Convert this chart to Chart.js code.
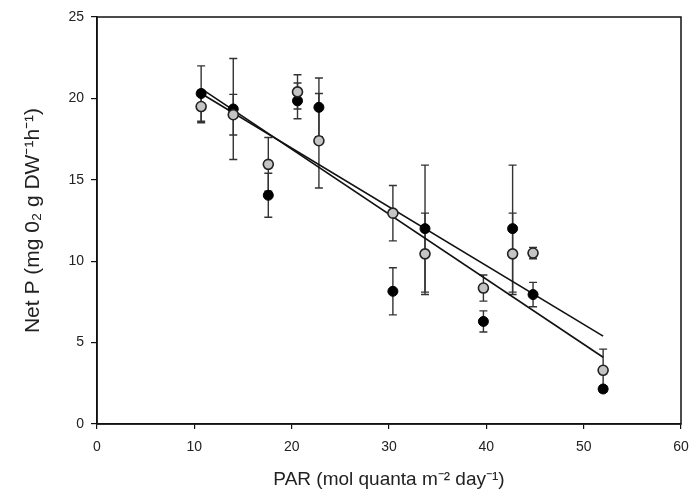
<!DOCTYPE html>
<html>
<head>
<meta charset="utf-8">
<script src="https://cdn.jsdelivr.net/npm/chart.js@4"></script>
<style>
  body { margin: 0; background: #fff; }
  #wrap { width: 692px; height: 497px; }
</style>
</head>
<body>
<div id="wrap"><canvas id="netpChart"></canvas></div>
<script>
// PAR values (x) shared by both series
const parValues = [10.7, 14.0, 17.6, 20.6, 22.8, 30.4, 33.7, 39.7, 42.7, 44.8, 52.0];
// filled (black) series
const blackNetP = [20.3, 19.35, 14.05, 19.85, 19.45, 8.15, 12.0, 6.3, 12.0, 7.95, 2.15];
const blackErr = [1.7, 3.1, 1.35, 1.1, 1.8, 1.45, 3.9, 0.65, 3.9, 0.75, 0.2];
// open (grey) series
const greyNetP = [19.5, 19.0, 15.95, 20.4, 17.4, 12.95, 10.45, 8.35, 10.45, 10.5, 3.3];
const greyErr = [1.0, 1.25, 1.65, 1.05, 2.9, 1.7, 2.5, 0.8, 2.5, 0.35, 1.3];
// regression line end points
const fitX = [10.7, 52.0];
const fitA = [20.6, 4.1];
const fitB = [20.3, 5.4];
const xTicks = [0, 10, 20, 30, 40, 50, 60];
const yTicks = [0, 5, 10, 15, 20, 25];

const toPoints = (xs, ys) => xs.map((x, i) => ({ x: x, y: ys[i] }));

// error bars, drawn before the markers so the markers sit on top
const errorBars = {
    id: 'errorBars',
    beforeDatasetsDraw(chart) {
        const ctx = chart.ctx;
        const xs = chart.scales.x, ys = chart.scales.y;
        const sets = [[blackNetP, blackErr], [greyNetP, greyErr]];
        ctx.save();
        ctx.strokeStyle = '#333';
        ctx.lineWidth = 1.4;
        sets.forEach(([vals, errs]) => {
            vals.forEach((v, i) => {
                const px = xs.getPixelForValue(parValues[i]);
                const top = ys.getPixelForValue(v + errs[i]);
                const bot = ys.getPixelForValue(v - errs[i]);
                ctx.beginPath();
                ctx.moveTo(px, top); ctx.lineTo(px, bot);
                ctx.moveTo(px - 4, top); ctx.lineTo(px + 4, top);
                ctx.moveTo(px - 4, bot); ctx.lineTo(px + 4, bot);
                ctx.stroke();
            });
        });
        ctx.restore();
    }
};

// box around the plot area
const frame = {
    id: 'frame',
    afterDraw(chart) {
        const a = chart.chartArea, ctx = chart.ctx;
        ctx.save();
        ctx.strokeStyle = '#111';
        ctx.lineWidth = 1.5;
        ctx.strokeRect(a.left, a.top, a.right - a.left, a.bottom - a.top);
        ctx.restore();
    }
};

const tickFont = { family: 'Liberation Sans', size: 14 };

const ctx = document.getElementById('netpChart').getContext('2d');
new Chart(ctx, {
    type: 'scatter',
    data: {
        datasets: [
            {
                label: 'grey',
                data: toPoints(parValues, greyNetP),
                backgroundColor: '#c4c4c4',
                borderColor: '#222',
                borderWidth: 1.6,
                pointRadius: 5,
                order: 1
            },
            {
                label: 'black',
                data: toPoints(parValues, blackNetP),
                backgroundColor: '#000',
                borderColor: '#000',
                borderWidth: 1,
                pointRadius: 5,
                order: 2
            },
            {
                type: 'line',
                label: 'fit A',
                data: toPoints(fitX, fitA),
                borderColor: '#111',
                borderWidth: 1.6,
                pointRadius: 0,
                fill: false,
                order: 3
            },
            {
                type: 'line',
                label: 'fit B',
                data: toPoints(fitX, fitB),
                borderColor: '#111',
                borderWidth: 1.6,
                pointRadius: 0,
                fill: false,
                order: 4
            }
        ]
    },
    options: {
        responsive: true,
        maintainAspectRatio: false,
        animation: false,
        layout: { padding: { top: 17, right: 11, left: 0, bottom: 0 } },
        plugins: {
            legend: { display: false },
            tooltip: { enabled: false }
        },
        scales: {
            x: {
                type: 'linear',
                min: 0,
                max: 60,
                afterBuildTicks: (s) => { s.ticks = xTicks.map(v => ({ value: v })); },
                afterFit: (s) => { s.height = 73; s.paddingLeft = 0; s.paddingRight = 0; },
                grid: { drawOnChartArea: false, drawTicks: true, tickLength: 5, color: '#111', lineWidth: 1.2 },
                border: { display: true, color: '#111', width: 1.5 },
                ticks: { color: '#222', font: tickFont, padding: 10 },
                title: {
                    display: true,
                    text: 'PAR (mol quanta m\u207B\u00B2 day\u207B\u00B9)',
                    color: '#222',
                    font: { family: 'Liberation Sans', size: 19 },
                    padding: { top: 0, bottom: 6 }
                }
            },
            y: {
                min: 0,
                max: 25,
                afterBuildTicks: (s) => { s.ticks = yTicks.map(v => ({ value: v })); },
                afterFit: (s) => { s.width = 97; s.paddingTop = 0; s.paddingBottom = 0; },
                grid: { drawOnChartArea: false, drawTicks: true, tickLength: 6, color: '#111', lineWidth: 1.2 },
                border: { display: true, color: '#111', width: 1.5 },
                ticks: { color: '#222', font: tickFont, padding: 7 },
                title: {
                    display: true,
                    text: 'Net P (mg 0\u2082 g DW\u207B\u00B9h\u207B\u00B9)',
                    color: '#222',
                    font: { family: 'Liberation Sans', size: 21 },
                    padding: { top: 21, bottom: 0 }
                }
            }
        }
    },
    plugins: [errorBars, frame]
});
</script>
</body>
</html>
